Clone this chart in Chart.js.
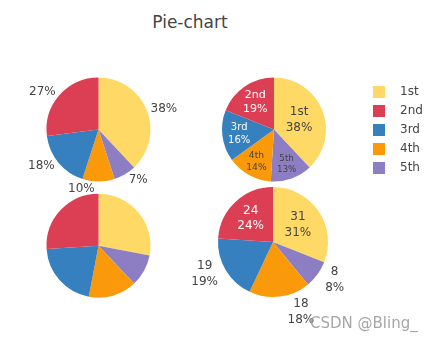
<!DOCTYPE html>
<html>
<head>
<meta charset="utf-8">
<script src="https://cdn.jsdelivr.net/npm/chart.js@4.4.1/dist/chart.umd.min.js"></script>
<style>
  html, body { margin: 0; padding: 0; background: #fff; }
  #wrap { position: relative; width: 432px; height: 344px; overflow: hidden;
          font-family: "DejaVu Sans", Verdana, sans-serif; }
  #wrap canvas { position: absolute; left: 0; top: 0; }
  #title { position: absolute; left: 0; width: 380px; top: 13.6px; line-height: 17px;
           font-size: 17px; color: #444; text-align: center; white-space: nowrap; }
  #mark { position: absolute; left: 310px; top: 316px; line-height: 15px; font-size: 15px;
          color: rgba(150,150,150,0.85); white-space: nowrap; }
</style>
</head>
<body>
<div id="wrap">
  <div id="title">Pie-chart</div>
  <canvas id="pieA" width="432" height="344"></canvas>
  <canvas id="pieB" width="460" height="344"></canvas>
  <canvas id="pieC" width="432" height="344"></canvas>
  <canvas id="pieD" width="432" height="344"></canvas>
  <div id="mark">CSDN @Bling_</div>
</div>
<script>
// ---- data ----
const categories = ['1st', '2nd', '3rd', '4th', '5th'];
const colors     = ['#FFD966', '#DC3F54', '#3680BF', '#FA9A0A', '#8D7EC3'];
const valuesA = [38, 27, 18, 10, 7];   // top left
const valuesB = [38, 19, 16, 14, 13];  // top right
const valuesC = [28, 26, 21, 15, 10];  // bottom left
const valuesD = [31, 24, 19, 18, 8];   // bottom right

// slices run clockwise from 12 o'clock in this category order
const sliceOrder = [0, 4, 3, 2, 1];

const FONT = '"DejaVu Sans", Verdana, sans-serif';
const W = 432, H = 344;
const insideColor = ['#444', '#fff', '#fff', '#444', '#444'];

// Slice text: inside labels shrink to the slice's inscribed circle,
// outside labels sit just past the rim on the slice's mid angle.
function sliceText(spec) {
  return {
    id: 'sliceText',
    afterDatasetsDraw(chart) {
      const ctx = chart.ctx;
      const meta = chart.getDatasetMeta(0);
      const data = chart.data.datasets[0].data;
      const total = data.reduce((a, b) => a + b, 0);
      const fs = spec.size;
      const gap = fs * 1.3;
      meta.data.forEach((arc, j) => {
        const cat = sliceOrder[j];
        const pos = spec.position[cat];
        if (pos === 'none') return;
        const v = data[j];
        const pct = Math.round(v / total * 100) + '%';
        const lines = spec.lines(categories[cat], v, pct);
        const p = arc.getProps(['x', 'y', 'startAngle', 'endAngle', 'outerRadius'], true);
        const mid = (p.startAngle + p.endAngle) / 2;
        const half = (p.endAngle - p.startAngle) / 2;
        const r = p.outerRadius;
        const px = Math.cos(mid) * r, py = Math.sin(mid) * r;
        ctx.save();
        ctx.font = fs + 'px ' + FONT;
        const w = Math.max(...lines.map(t => ctx.measureText(t).width));
        const h = (lines.length - 1) * gap + fs * 1.25;
        let tx, ty, scale = 1, color;
        if (pos === 'inside') {
          const s = Math.sin(half);
          const ins = Math.min(s / (1 + s), 0.5);
          scale = Math.min(1, ins * r * 2 / Math.hypot(w, h));
          tx = p.x + px * (1 - ins);
          ty = p.y + py * (1 - ins);
          color = insideColor[cat];
        } else {
          let dx = w / 2, dy = h / 2;
          if (px < 0 || Math.abs(px) < 1e-6) dx = -dx;
          if (py < 0) dy = -dy;
          tx = p.x + px + dx + Math.abs(dy) * Math.sign(dx) / 2;
          ty = p.y + py + dy / (1 + (px * px) / (py * py));
          color = '#444';
        }
        ctx.font = (fs * scale) + 'px ' + FONT;
        ctx.fillStyle = color;
        ctx.textAlign = 'center';
        ctx.textBaseline = 'middle';
        const n = lines.length;
        lines.forEach((t, i) => {
          ctx.fillText(t, tx, ty + (i - (n - 1) / 2) * gap * scale);
        });
        ctx.restore();
      });
    }
  };
}

// small colour squares for the legend keys
const swatches = colors.map(c => {
  const cv = document.createElement('canvas');
  cv.width = 12; cv.height = 12;
  const g = cv.getContext('2d');
  g.fillStyle = c; g.fillRect(0, 0, 12, 12);
  return cv;
});

function makePie(id, values, cx, cy, radius, textSpec, legend, padding) {
  const pad = padding || { left: cx - radius, right: W - cx - radius, top: cy - radius, bottom: H - cy - radius };
  return new Chart(document.getElementById(id), {
    type: 'pie',
    data: {
      labels: sliceOrder.map(i => categories[i]),
      datasets: [{
        data: sliceOrder.map(i => values[i]),
        backgroundColor: sliceOrder.map(i => colors[i]),
        borderWidth: 0,
        radius: radius
      }]
    },
    options: {
      responsive: false,
      devicePixelRatio: 1,
      animation: false,
      events: [],
      layout: { padding: pad },
      plugins: {
        tooltip: { enabled: false },
        title: { display: false },
        legend: legend || { display: false }
      }
    },
    plugins: textSpec ? [sliceText(textSpec)] : []
  });
}

makePie('pieA', valuesA, 98.5, 129.5, 52, {
  size: 12,
  position: ['outside', 'outside', 'outside', 'outside', 'outside'],
  lines: (name, v, pct) => [pct]
});

// legend sits to the right of the top-right pie; its left edge is fixed at
// legendLeft, so the right padding takes up whatever the text width leaves
const LEG_FONT = 12, LEG_PAD = 7, KEY_W = 29.4;
const legendLeft = 357.6;
const measure = document.createElement('canvas').getContext('2d');
measure.font = LEG_FONT + 'px ' + FONT;
const maxText = Math.max(...categories.map(c => measure.measureText(c).width));
const legendWidth = LEG_PAD + KEY_W + LEG_FONT / 2 + maxText + 10;
const canvasB = document.getElementById('pieB');
const rightPadB = canvasB.width - legendLeft - legendWidth;

makePie('pieB', valuesB, 274, 129.5, 52, {
  size: 12,
  position: ['inside', 'inside', 'inside', 'inside', 'inside'],
  lines: (name, v, pct) => [name, pct]
}, {
  display: true,
  position: 'right',
  align: 'center',
  labels: {
    usePointStyle: true,
    pointStyleWidth: KEY_W,
    padding: LEG_PAD,
    color: '#444',
    font: { family: FONT, size: LEG_FONT },
    generateLabels: () => categories.map((c, i) => ({
      text: c,
      fillStyle: colors[i],
      strokeStyle: colors[i],
      lineWidth: 0,
      pointStyle: swatches[i],
      fontColor: '#444',
      hidden: false,
      index: i
    }))
  }
}, { left: 2 * 274 - legendLeft, right: rightPadB, top: 30, bottom: 115 });

makePie('pieC', valuesC, 98.5, 245.7, 52, null);

makePie('pieD', valuesD, 273, 242, 55, {
  size: 12,
  position: ['inside', 'inside', 'outside', 'outside', 'outside'],
  lines: (name, v, pct) => [String(v), pct]
});
</script>
</body>
</html>
